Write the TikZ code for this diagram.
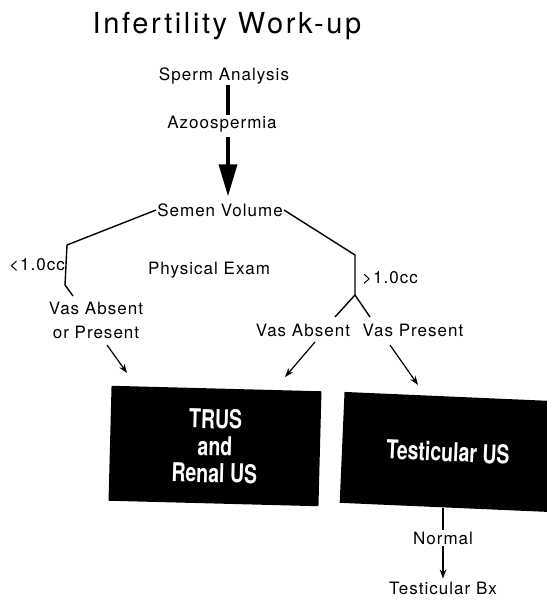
\documentclass[tikz,border=0pt]{standalone}
\usepackage{fontspec}
\setmainfont{TeX Gyre Heros}[LetterSpace=6]
\newfontfamily\titlefont{TeX Gyre Heros}[LetterSpace=9]
\newfontfamily\boxfont{TeX Gyre Heros}[FakeStretch=0.75]
\usetikzlibrary{arrows.meta}

\begin{document}
\begin{tikzpicture}[x=1pt,y=-1pt, every node/.style={font=\fontsize{17}{20}\selectfont, inner sep=1pt},
    branch/.style={line width=1.4pt},
    arr/.style={line width=1.2pt, -{Stealth[length=9pt,width=6.5pt]}},
    blackbox/.style={fill=black, text=white, align=center, font=\boxfont\bfseries\fontsize{26}{27}\selectfont}]
    \useasboundingbox (0,0) rectangle (546,607);
    \node[font=\titlefont\fontsize{29}{32}\selectfont] (title) at (227,26) {Infertility Work-up};
    \node (sperm) at (224,76) {Sperm Analysis};
    \node (azoo) at (222,124) {Azoospermia};
    \node (semen) at (220,210) {Semen Volume};
    \node (less) at (37,265) {<1.0cc};
    \node (exam) at (209,270) {Physical Exam};
    \node (more) at (390,278) {>1.0cc};
    \node[align=center, font=\fontsize{17}{24}\selectfont] (vasboth) at (96,320) {Vas Absent\\or Present};
    \node (vasabs) at (303,330) {Vas Absent};
    \node (vaspres) at (413,330) {Vas Present};
    \node[blackbox, minimum width=210pt, minimum height=115pt, rotate=-1.5] (trus) at (215,446) {TRUS\\and\\Renal US};
    \node[blackbox, minimum width=212pt, minimum height=111pt, rotate=-2.5] (tus) at (448,452) {Testicular US};
    \node (normal) at (443,538) {Normal};
    \node (bx) at (443,588) {Testicular Bx};
    % bends and free ends
    \coordinate (stem) at (228,0);
    \coordinate (lbend) at (67,245);
    \coordinate (lfoot) at (65,285);
    \coordinate (lend) at (73,296);
    \coordinate (rbend) at (355,255);
    \coordinate (fork) at (355,295);
    \coordinate (fl) at (335,317);
    \coordinate (fr) at (370,317);
    \coordinate (a1) at (107,345);
    \coordinate (b1) at (127,373);
    \coordinate (a2) at (315,342);
    \coordinate (b2) at (285,377);
    \coordinate (a3) at (390,345);
    \coordinate (b3) at (418,385);
    \draw[line width=3.5pt] (sperm.south -| stem) -- (azoo.north -| stem);
    \draw[line width=3.5pt, -{Triangle[length=32pt,width=18pt]}, shorten <=4pt, shorten >=6pt] (azoo.south -| stem) -- (semen.north -| stem);
    \draw[branch] (semen.west) -- (lbend) -- (lfoot) -- (lend);
    \draw[branch] (semen.east) -- (rbend) -- (fork);
    \draw[branch] (fl) -- (fork) -- (fr);
    \draw[arr] (a1) -- (b1);
    \draw[arr] (a2) -- (b2);
    \draw[arr] (a3) -- (b3);
    \draw[branch] (tus.south -| normal) -- (normal.north);
    \draw[arr, shorten >=2pt] (normal.south) -- (bx.north);
\end{tikzpicture}
\end{document}
